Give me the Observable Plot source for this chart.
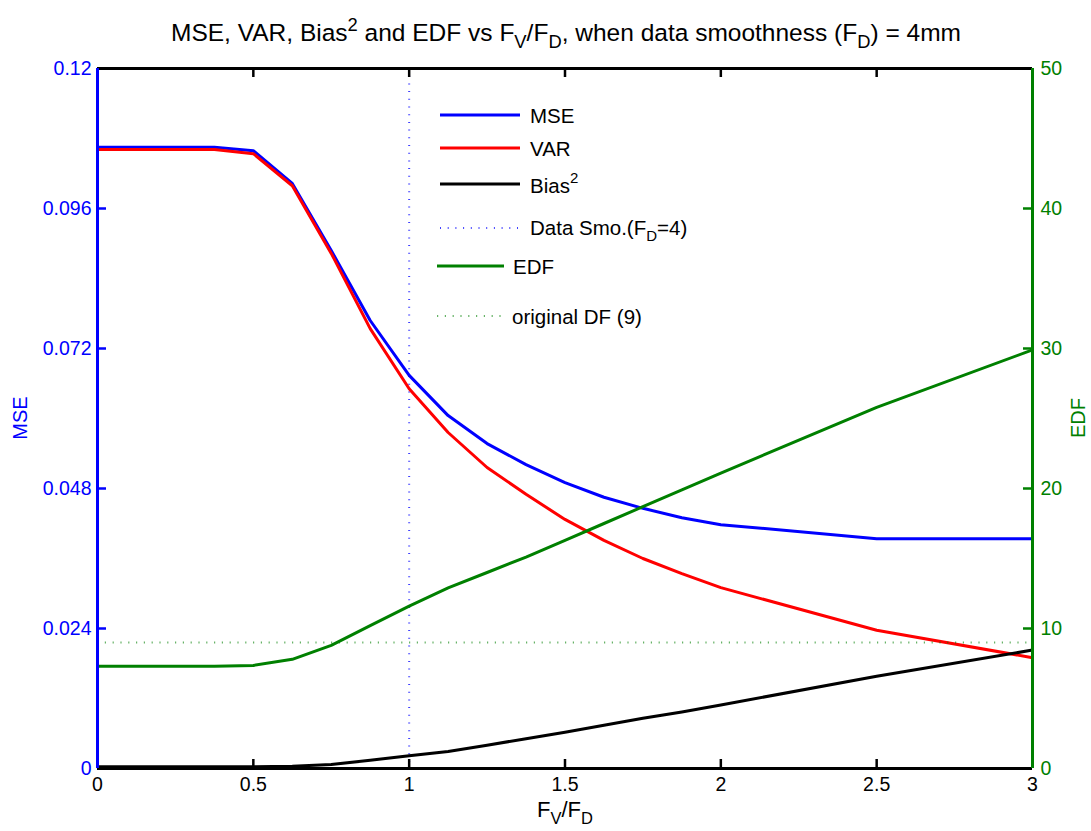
<!DOCTYPE html>
<html>
<head>
<meta charset="utf-8">
<script src="https://cdn.jsdelivr.net/npm/d3@7"></script>
<script src="https://cdn.jsdelivr.net/npm/@observablehq/plot@0.6"></script>
<style>
  body { margin: 0; background: #fff; font-family: "Liberation Sans", Arial, Helvetica, sans-serif; }
  #wrap { position: relative; width: 1091px; height: 831px; overflow: hidden; background: #fff; }
  #title { position: absolute; left: 0; width: 1132px; top: 21px; text-align: center; font-size: 24.5px; line-height: 24px; color: #000; white-space: nowrap; }
  #title sup, #title sub { font-size: 0.75em; line-height: 0; }
  #title sup { vertical-align: 0.55em; }
  #title sub { vertical-align: -0.38em; }
  #chart { position: absolute; left: 0; top: 55px; }
  #overlay { position: absolute; left: 0; top: 0; pointer-events: none; }
  #overlay text { font-family: "Liberation Sans", Arial, Helvetica, sans-serif; }
</style>
</head>
<body>
<div id="wrap">
  <div id="title">MSE, VAR, Bias<sup>2</sup> and EDF vs F<sub>V</sub>/F<sub>D</sub>, when data smoothness (F<sub>D</sub>) = 4mm</div>
  <div id="chart"></div>
  <svg id="overlay" width="1091" height="831">
    <!-- legend -->
    <line x1="440" x2="520" y1="115" y2="115" stroke="#0000ff" stroke-width="3"/>
    <text x="530" y="122.5" font-size="20.5">MSE</text>
    <line x1="440" x2="520" y1="148" y2="148" stroke="#ff0000" stroke-width="3"/>
    <text x="530" y="155.5" font-size="20.5">VAR</text>
    <line x1="440" x2="520" y1="184" y2="184" stroke="#000000" stroke-width="3"/>
    <text x="530" y="193" font-size="20.5">Bias<tspan font-size="15" dy="-10">2</tspan></text>
    <line x1="440" x2="520" y1="228" y2="228" stroke="#0000ff" stroke-opacity="0.75" stroke-width="2" stroke-dasharray="1,6.7"/>
    <text x="530" y="235" font-size="20.5">Data Smo.(F<tspan font-size="15" dy="6">D</tspan><tspan dy="-6">=4)</tspan></text>
    <line x1="437" x2="504" y1="266" y2="266" stroke="#008000" stroke-width="3"/>
    <text x="513" y="273.5" font-size="20.5">EDF</text>
    <line x1="437" x2="501" y1="316" y2="316" stroke="#008000" stroke-opacity="0.6" stroke-width="2" stroke-dasharray="1.2,6.6"/>
    <text x="512" y="323.5" font-size="20.5">original DF (9)</text>
    <!-- axis labels -->
    <text transform="translate(27,418) rotate(-90)" text-anchor="middle" font-size="20" fill="#0000ff">MSE</text>
    <text transform="translate(1085,418) rotate(-90)" text-anchor="middle" font-size="20" fill="#008000">EDF</text>
    <text x="565" y="817" text-anchor="middle" font-size="22">F<tspan font-size="16.5" dy="7">V</tspan><tspan dy="-7">/F</tspan><tspan font-size="16.5" dy="7">D</tspan></text>
  </svg>
</div>
<script>
// ---- data ----
const fvRatio   = [0, 0.125, 0.25, 0.375, 0.5, 0.625, 0.75, 0.875, 1.0, 1.125, 1.25, 1.375, 1.5, 1.625, 1.75, 1.875, 2.0, 2.5, 3.0];
const mseValues = [0.1065, 0.1065, 0.1065, 0.1065, 0.1059, 0.1003, 0.0888, 0.0768, 0.0674, 0.0605, 0.0557, 0.0521, 0.0490, 0.0465, 0.0446, 0.0430, 0.0418, 0.0394, 0.0394];
const varValues = [0.1061, 0.1061, 0.1061, 0.1061, 0.1054, 0.0999, 0.0883, 0.0754, 0.0651, 0.0576, 0.0516, 0.0470, 0.0427, 0.0391, 0.0360, 0.0334, 0.0310, 0.0237, 0.0190];
const bias2Values = [0.0003, 0.0003, 0.0003, 0.0003, 0.0003, 0.0004, 0.0007, 0.0014, 0.0022, 0.0029, 0.0040, 0.0051, 0.0062, 0.0074, 0.0086, 0.0097, 0.0109, 0.0158, 0.0203];
const edfValues = [7.3, 7.3, 7.3, 7.3, 7.36, 7.8, 8.8, 10.2, 11.6, 12.9, 14.0, 15.1, 16.3, 17.5, 18.7, 19.9, 21.1, 25.8, 29.9];
const dataSmoothnessRatio = 1;   // F_V/F_D where F_V = F_D = 4mm
const originalDF = 9;

const xTicks = [0, 0.5, 1, 1.5, 2, 2.5, 3];
const xTickLabels = ["0", "0.5", "1", "1.5", "2", "2.5", "3"];
const mseTicks = [0, 0.024, 0.048, 0.072, 0.096, 0.12];
const mseTickLabels = ["0", "0.024", "0.048", "0.072", "0.096", "0.12"];
const edfTicks = [0, 10, 20, 30, 40, 50];
const edfTickLabels = ["0", "10", "20", "30", "40", "50"];
const mseMax = 0.12, edfMax = 50;

// ---- build ----
const edfToY = v => v * mseMax / edfMax;
const rows = fvRatio.map((x, i) => ({x, mse: mseValues[i], var: varValues[i], bias: bias2Values[i], edf: edfToY(edfValues[i])}));

const W = 1091, H = 776;
const mL = 97, mR = 59, mT = 13, mB = 63;
const plotW = W - mL - mR, plotH = H - mT - mB;
const tickLen = 9;
const font = "Liberation Sans, Arial, Helvetica, sans-serif";

const chart = Plot.plot({
  width: W, height: H,
  marginLeft: mL, marginRight: mR, marginTop: mT, marginBottom: mB,
  x: {domain: [0, 3], label: null},
  y: {domain: [0, mseMax], label: null},
  style: {fontFamily: font, background: "white", overflow: "visible"},
  marks: [
    Plot.ruleX([dataSmoothnessRatio], {stroke: "#0000ff", strokeOpacity: 0.75, strokeWidth: 2, strokeDasharray: "1,6.7"}),
    Plot.line(rows, {x: "x", y: "mse", stroke: "#0000ff", strokeWidth: 3}),
    Plot.line(rows, {x: "x", y: "var", stroke: "#ff0000", strokeWidth: 3}),
    Plot.line(rows, {x: "x", y: "bias", stroke: "#000000", strokeWidth: 3}),
    Plot.ruleY([edfToY(originalDF)], {stroke: "#008000", strokeOpacity: 0.6, strokeWidth: 2, strokeDasharray: "1.2,6.6"}),
    Plot.line(rows, {x: "x", y: "edf", stroke: "#008000", strokeWidth: 3}),
    // inward tick marks
    Plot.tickX(xTicks, {x: d => d, stroke: "#000", strokeWidth: 2.5, insetTop: plotH - tickLen}),
    Plot.tickX(xTicks, {x: d => d, stroke: "#000", strokeWidth: 2.5, insetBottom: plotH - tickLen}),
    Plot.tickY(mseTicks, {y: d => d, stroke: "#0000ff", strokeWidth: 2.5, insetRight: plotW - tickLen}),
    Plot.tickY(edfTicks, {y: d => edfToY(d), stroke: "#008000", strokeWidth: 2.5, insetLeft: plotW - tickLen}),
    // frame
    Plot.ruleY([0], {stroke: "#000", strokeWidth: 3}),
    Plot.ruleY([mseMax], {stroke: "#000", strokeWidth: 3}),
    Plot.ruleX([0], {stroke: "#0000ff", strokeWidth: 3}),
    Plot.ruleX([3], {stroke: "#008000", strokeWidth: 3}),
    // axes labels
    Plot.axisX(xTicks, {anchor: "bottom", tickSize: 0, tickPadding: 9, label: null, fontSize: 19.5,
      tickFormat: d => xTickLabels[xTicks.indexOf(d)]}),
    Plot.axisY(mseTicks, {anchor: "left", tickSize: 0, tickPadding: 6, label: null, fontSize: 19.5, color: "#0000ff",
      tickFormat: d => mseTickLabels[mseTicks.indexOf(d)]}),
    Plot.axisY(edfTicks.map(edfToY), {anchor: "right", tickSize: 0, tickPadding: 8, label: null, fontSize: 19.5, color: "#008000",
      tickFormat: d => edfTickLabels[edfTicks.indexOf(Math.round(d * edfMax / mseMax))]})
  ]
});
document.getElementById("chart").appendChild(chart);
</script>
</body>
</html>
